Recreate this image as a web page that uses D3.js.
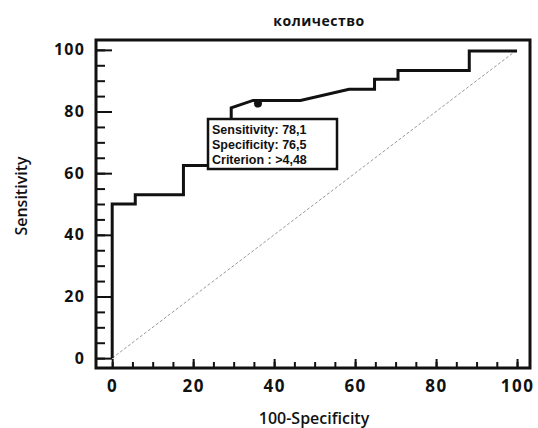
<!DOCTYPE html>
<html>
<head>
<meta charset="UTF-8">
<style>
body {margin:0; background:#fff;}
text {font-family:"Open Sans", sans-serif; fill:#111;}
.tick line {stroke:#111; stroke-width:2px;}
.domain {display:none;}
</style>
<script src="https://cdnjs.cloudflare.com/ajax/libs/d3/7.8.5/d3.min.js"></script>
</head>
<body>
<svg id="chart" width="538" height="428"></svg>
<script>
// ROC curve vertices (100-Specificity, Sensitivity)
var fpr = [0, 0, 5.7, 5.7, 17.6, 17.6, 29.4, 29.4, 34.8, 46.5, 58.5, 64.8, 64.8, 70.6, 70.6, 88.2, 88.2, 100];
var tpr = [0, 50, 50, 53, 53, 62.5, 62.5, 81.2, 83.6, 83.6, 87.2, 87.2, 90.5, 90.5, 93.3, 93.3, 99.6, 99.6];
var criterionPoint = [36, 82.6];
var majorTicks = [0, 20, 40, 60, 80, 100];
var minorTicks = d3.range(0, 101, 5);
var boxLines = ["Sensitivity: 78,1", "Specificity: 76,5", "Criterion : >4,48"];

var svg = d3.select("#chart");
var L = 96, R = 530, T = 40, B = 368;

var x = d3.scaleLinear().domain([-4, 103.2]).range([L, R]);
var y = d3.scaleLinear().domain([-3.2, 103.2]).range([B, T]);

// minor ticks
svg.append("g").attr("transform", "translate(" + L + ",0)")
  .call(d3.axisLeft(y).tickValues(minorTicks).tickSize(-9).tickFormat(""));
svg.append("g").attr("transform", "translate(0," + B + ")")
  .call(d3.axisBottom(x).tickValues(minorTicks).tickSize(-6).tickFormat(""));

// major ticks + labels
var ya = svg.append("g").attr("transform", "translate(" + L + ",0)")
  .call(d3.axisLeft(y).tickValues(majorTicks).tickSize(-16).tickPadding(11));
ya.selectAll("text").style("font-size", "16px").style("font-weight", "700").style("letter-spacing", "1.2px");
var xa = svg.append("g").attr("transform", "translate(0," + B + ")")
  .call(d3.axisBottom(x).tickValues(majorTicks).tickSize(-9).tickPadding(12));
xa.selectAll("text").style("font-size", "17px").style("font-weight", "700").style("letter-spacing", "1.5px");

// diagonal reference
svg.append("line")
  .attr("x1", x(0)).attr("y1", y(0)).attr("x2", x(100)).attr("y2", y(100))
  .attr("stroke", "#999").attr("stroke-width", 1).attr("stroke-dasharray", "3,2");

// ROC curve
var pts = fpr.map(function(d, i) { return [d, tpr[i]]; });
svg.append("path")
  .datum(pts)
  .attr("fill", "none").attr("stroke", "#111").attr("stroke-width", 3)
  .attr("stroke-linejoin", "miter")
  .attr("d", d3.line().x(function(d) { return x(d[0]); }).y(function(d) { return y(d[1]); }));

svg.append("circle")
  .attr("cx", x(criterionPoint[0])).attr("cy", y(criterionPoint[1])).attr("r", 4)
  .attr("fill", "#111");

// frame
svg.append("rect")
  .attr("x", L).attr("y", T).attr("width", R - L).attr("height", B - T)
  .attr("fill", "none").attr("stroke", "#111").attr("stroke-width", 3);

// info box
var box = svg.append("g").attr("transform", "translate(208,119)");
box.append("rect").attr("width", 129).attr("height", 50)
  .attr("fill", "#fff").attr("stroke", "#111").attr("stroke-width", 2.5);
box.selectAll("text.info").data(boxLines).enter().append("text")
  .attr("class", "info")
  .attr("x", 4).attr("y", function(d, i) { return 15 + i * 15; })
  .style("font-family", "'Liberation Sans', Arial, sans-serif")
  .style("font-size", "12.5px").style("font-weight", "700")
  .text(function(d) { return d; });

// titles
svg.append("text").attr("x", 319).attr("y", 26).attr("text-anchor", "middle")
  .style("font-size", "14px").style("font-weight", "700").style("letter-spacing", "0.5px")
  .text("количество");
svg.append("text").attr("x", 314).attr("y", 424).attr("text-anchor", "middle")
  .style("font-size", "16px").style("font-weight", "600")
  .text("100-Specificity");
svg.append("text").attr("transform", "translate(27,196) rotate(-90)").attr("text-anchor", "middle")
  .style("font-size", "16px").style("font-weight", "600")
  .text("Sensitivity");
</script>
</body>
</html>
